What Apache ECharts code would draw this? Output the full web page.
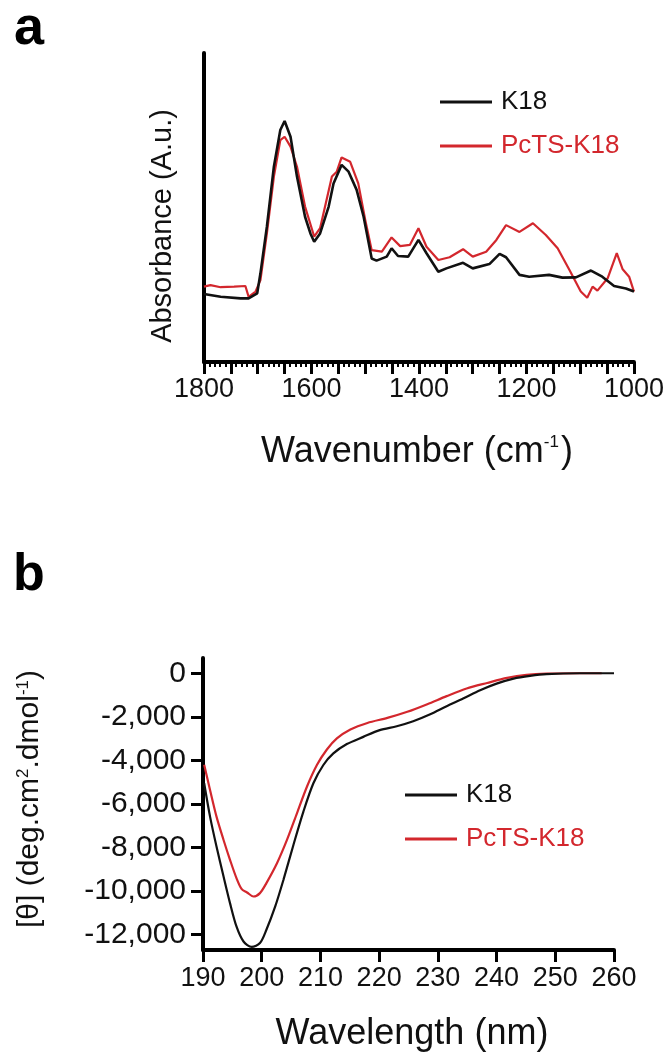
<!DOCTYPE html>
<html>
<head>
<meta charset="utf-8">
<script src="https://cdn.jsdelivr.net/npm/echarts@6/dist/echarts.min.js"></script>
<style>
html,body{margin:0;padding:0;background:#fff;}
#chart{width:667px;height:1062px;}
</style>
</head>
<body>
<div id="chart"></div>
<script>
// ---------- Panel a: FTIR ----------
const irWaveK18 = [1800,1769,1732,1717,1701,1695,1683,1670,1658,1650,1639,1627,1612,1602,1595,1584,1568,1559,1544,1531,1516,1503,1488,1479,1460,1451,1439,1420,1401,1386,1364,1349,1318,1300,1269,1250,1238,1213,1195,1158,1133,1108,1080,1059,1037,1015,1000];
const irK18 = [22.0,21.1,20.6,20.6,22.2,28.7,43.8,63.2,75.1,78.0,72.9,60.0,47.0,41.6,38.9,41.6,50.3,57.8,63.8,61.6,55.7,47.0,33.5,32.8,34.1,36.8,34.3,34.1,39.5,35.2,29.2,30.3,32.1,30.3,31.7,35.0,33.9,28.2,27.6,28.2,27.3,27.4,29.6,27.6,24.6,23.8,22.8];
const irWavePcTS = [1800,1788,1769,1744,1723,1717,1704,1695,1683,1670,1658,1650,1639,1627,1612,1595,1584,1562,1553,1544,1528,1513,1500,1488,1469,1451,1435,1417,1401,1386,1364,1343,1318,1300,1275,1256,1238,1213,1188,1164,1142,1120,1099,1087,1077,1068,1049,1032,1021,1009,1000];
const irPcTS = [24.4,24.9,24.2,24.4,24.6,21.1,22.8,26.5,41.6,60.0,71.8,72.9,69.7,63.2,50.3,40.6,43.3,60.0,61.6,66.2,64.8,57.8,46.0,36.2,35.7,40.3,37.5,37.9,43.3,37.3,33.0,33.9,36.5,34.1,35.7,39.5,44.3,42.1,44.9,41.1,36.8,29.8,22.8,20.8,24.4,23.1,27.1,35.2,30.0,27.6,22.8];
const irTickLabels = [1800,1600,1400,1200,1000];

// ---------- Panel b: CD ----------
const cdWaveK18 = [190.2,191.2,192.3,193.5,194.6,195.7,196.9,198.3,199.7,200.8,202.3,203.7,205.4,207.1,208.8,210.5,212.2,214.5,217.3,220.1,223.0,225.8,228.7,231.5,234.3,237.2,240.0,242.9,245.7,248.5,254.2,260.0];
const cdK18 = [-5050,-6580,-7955,-9330,-10550,-11620,-12310,-12560,-12380,-11770,-10700,-9480,-7880,-6350,-5050,-4210,-3680,-3250,-2920,-2610,-2430,-2200,-1880,-1510,-1160,-780,-475,-245,-120,-40,0,0];
const cdWavePcTS = [190.2,191.2,192.3,193.5,194.6,195.7,196.6,197.5,198.6,199.7,200.8,202.6,204.3,206.0,207.7,209.4,211.1,212.8,215.1,218.0,221.4,224.8,228.2,231.5,234.9,238.4,241.8,245.1,248.5,254.2,257.9];
const cdPcTS = [-4200,-5360,-6580,-7650,-8560,-9400,-9910,-10060,-10245,-10090,-9630,-8720,-7650,-6430,-5210,-4215,-3500,-2990,-2580,-2280,-2050,-1770,-1420,-1050,-700,-445,-215,-75,-15,0,0];
const cdYTicks = [0,-2000,-4000,-6000,-8000,-10000,-12000];

const BLACK = '#111111';
const RED = '#d3272d';
const FONT = "'Liberation Sans', Arial, Helvetica, sans-serif";

const zip = (xs, ys) => xs.map((x, i) => [x, ys[i]]);

const chart = echarts.init(document.getElementById('chart'), null, {renderer: 'canvas'});

const legendBase = {
  orient: 'vertical',
  icon: 'rect',
  itemWidth: 52,
  itemHeight: 3,
  itemGap: 18,
  selectedMode: false,
  textStyle: {fontFamily: FONT, fontSize: 26, padding: [0, 0, 0, 4]}
};

const option = {
  backgroundColor: '#ffffff',
  animation: false,
  textStyle: {fontFamily: FONT},
  grid: [
    {left: 204, top: 53, width: 432, height: 309, containLabel: false},
    {left: 203, top: 658, width: 411, height: 292, containLabel: false}
  ],
  legend: [
    Object.assign({}, legendBase, {
      left: 435, top: 84,
      data: [
        {name: 'K18', textStyle: {color: BLACK}},
        {name: 'PcTS-K18', textStyle: {color: RED}}
      ]
    }),
    Object.assign({}, legendBase, {
      left: 400, top: 777,
      data: [
        {name: 'K18', textStyle: {color: BLACK}},
        {name: 'PcTS-K18', textStyle: {color: RED}}
      ]
    })
  ],
  xAxis: [
    {
      gridIndex: 0, type: 'value', min: 1000, max: 1800, interval: 50, inverse: true,
      axisLine: {show: true, onZero: false, lineStyle: {color: '#000', width: 4}},
      axisTick: {show: true, length: 12, lineStyle: {color: '#000', width: 3}},
      minorTick: {show: true, splitNumber: 5, length: 5, lineStyle: {color: '#000', width: 2}},
      splitLine: {show: false},
      axisLabel: {customValues: irTickLabels, margin: 14, color: '#111', fontFamily: FONT, fontSize: 27,
        formatter: v => String(v)}
    },
    {
      gridIndex: 1, type: 'value', min: 190, max: 260, interval: 10,
      axisLine: {show: true, onZero: false, lineStyle: {color: '#000', width: 4}},
      axisTick: {show: true, length: 12, lineStyle: {color: '#000', width: 3}},
      splitLine: {show: false},
      axisLabel: {margin: 15, color: '#111', fontFamily: FONT, fontSize: 27}
    }
  ],
  yAxis: [
    {
      gridIndex: 0, type: 'value', min: 0, max: 100,
      axisLine: {show: true, onZero: false, lineStyle: {color: '#000', width: 4}},
      axisTick: {show: false}, axisLabel: {show: false}, splitLine: {show: false}
    },
    {
      gridIndex: 1, type: 'value', min: -12700, max: 700,
      axisLine: {show: true, onZero: false, lineStyle: {color: '#000', width: 4}},
      axisTick: {show: true, customValues: cdYTicks, length: 12, lineStyle: {color: '#000', width: 3}},
      splitLine: {show: false},
      axisLabel: {
        customValues: cdYTicks, margin: 17, color: '#111', fontFamily: FONT, fontSize: 30,
        formatter: v => Number(v).toLocaleString('en-US')
      }
    }
  ],
  series: [
    {name: 'PcTS-K18', type: 'line', xAxisIndex: 0, yAxisIndex: 0, data: zip(irWavePcTS, irPcTS),
     showSymbol: false, symbol: 'none', lineStyle: {color: RED, width: 2.2}, itemStyle: {color: RED}, z: 2},
    {name: 'K18', type: 'line', xAxisIndex: 0, yAxisIndex: 0, data: zip(irWaveK18, irK18),
     showSymbol: false, symbol: 'none', lineStyle: {color: BLACK, width: 2.6}, itemStyle: {color: BLACK}, z: 3},
    {name: 'K18', type: 'line', xAxisIndex: 1, yAxisIndex: 1, data: zip(cdWaveK18, cdK18), smooth: 0.3,
     showSymbol: false, symbol: 'none', lineStyle: {color: BLACK, width: 2.2}, itemStyle: {color: BLACK}, z: 3},
    {name: 'PcTS-K18', type: 'line', xAxisIndex: 1, yAxisIndex: 1, data: zip(cdWavePcTS, cdPcTS), smooth: 0.3,
     showSymbol: false, symbol: 'none', lineStyle: {color: RED, width: 2.2}, itemStyle: {color: RED}, z: 2}
  ],
  graphic: [
    {type: 'text', x: 29, y: 29, style: {text: 'a', fontFamily: FONT, fontWeight: 'bold', fontSize: 54, fill: '#000', textAlign: 'center', textVerticalAlign: 'middle'}},
    {type: 'text', x: 29, y: 576, style: {text: 'b', fontFamily: FONT, fontWeight: 'bold', fontSize: 52, fill: '#000', textAlign: 'center', textVerticalAlign: 'middle'}},
    {type: 'text', x: 163, y: 226, rotation: Math.PI / 2,
     style: {text: 'Absorbance (A.u.)', fontFamily: FONT, fontSize: 29, fill: '#111', textAlign: 'center', textVerticalAlign: 'middle'}},
    {type: 'text', x: 417, y: 452,
     style: {text: 'Wavenumber (cm{sup|-1})', fontFamily: FONT, fontSize: 36, fill: '#111', textAlign: 'center', textVerticalAlign: 'middle',
       rich: {sup: {fontFamily: FONT, fontSize: 17, fill: '#111', verticalAlign: 'top', padding: [0, 2, 0, 0]}}}},
    {type: 'text', x: 30, y: 799, rotation: Math.PI / 2,
     style: {text: '[θ] (deg.cm{sup|2}.dmol{sup|-1})', fontFamily: FONT, fontSize: 30, fill: '#111', textAlign: 'center', textVerticalAlign: 'middle',
       rich: {sup: {fontFamily: FONT, fontSize: 17, fill: '#111', verticalAlign: 'top'}}}},
    {type: 'text', x: 412, y: 1034,
     style: {text: 'Wavelength (nm)', fontFamily: FONT, fontSize: 36, fill: '#111', textAlign: 'center', textVerticalAlign: 'middle'}}
  ]
};
chart.setOption(option);
</script>
</body>
</html>
